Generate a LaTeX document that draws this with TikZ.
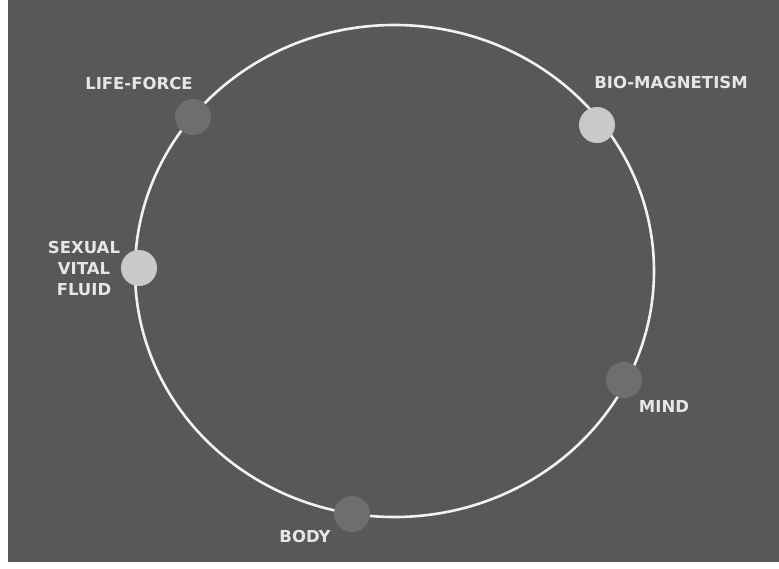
\documentclass[tikz,border=0pt]{standalone}
\usepackage{fontspec}
\setmainfont{DejaVu Sans}
\definecolor{bg}{HTML}{58585A}
\definecolor{ringc}{HTML}{F2F2F2}
\definecolor{darkdot}{HTML}{6E6E70}
\definecolor{lightdot}{HTML}{C9C9C9}
\definecolor{labelc}{HTML}{E6E6E6}
\begin{document}
\begin{tikzpicture}[x=1pt,y=-1pt,
  dotd/.style={circle,fill=darkdot,minimum size=36pt,inner sep=0pt},
  dotl/.style={circle,fill=lightdot,minimum size=36pt,inner sep=0pt},
  lbl/.style={text=labelc,font=\fontsize{16.5}{21}\selectfont\bfseries,inner sep=0pt,align=center}]
\useasboundingbox (0,0) rectangle (779,569);
\fill[white] (0,0) rectangle (779,569);
\fill[bg] (8,0) rectangle (779,562);
\draw[ringc,line width=2.6pt] (394.5,271) ellipse [x radius=259.5, y radius=246];
\node[dotd] (life) at (193,117) {};
\node[dotl] (bio) at (597,125) {};
\node[dotl] (sex) at (139,268) {};
\node[dotd] (mind) at (624,380) {};
\node[dotd] (body) at (352,514) {};
\node[lbl] (llife) at (139,83) {LIFE-FORCE};
\node[lbl] (lbio) at (671,82) {BIO-MAGNETISM};
\node[lbl] (lsex) at (84,268) {SEXUAL\\VITAL\\FLUID};
\node[lbl] (lmind) at (664,406) {MIND};
\node[lbl] (lbody) at (305,536) {BODY};
\end{tikzpicture}
\end{document}
